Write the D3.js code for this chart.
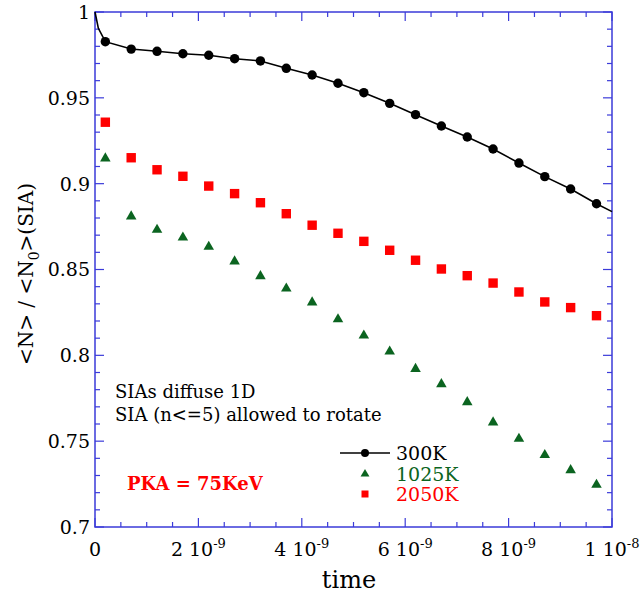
<!DOCTYPE html>
<html><head><meta charset="utf-8">
<script src="https://cdn.jsdelivr.net/npm/d3@7"></script>
<style>body{margin:0;background:#fff}svg{display:block}</style>
</head><body>
<script>
// ---- data ----
const times = [0.2e-9,0.7e-9,1.2e-9,1.7e-9,2.2e-9,2.7e-9,3.2e-9,3.7e-9,4.2e-9,4.7e-9,5.2e-9,5.7e-9,6.2e-9,6.7e-9,7.2e-9,7.7e-9,8.2e-9,8.7e-9,9.2e-9,9.7e-9];
const k300  = [0.9827,0.9784,0.9771,0.9757,0.9748,0.9728,0.9715,0.9672,0.9633,0.9585,0.9530,0.9468,0.9402,0.9336,0.9272,0.9202,0.9120,0.9041,0.8969,0.8883];
const k1025 = [0.9150,0.8812,0.8734,0.8689,0.8635,0.8550,0.8464,0.8392,0.8311,0.8213,0.8118,0.8025,0.7924,0.7835,0.7730,0.7612,0.7517,0.7422,0.7334,0.7249];
const k2050 = [0.9358,0.9151,0.9081,0.9043,0.8986,0.8942,0.8889,0.8825,0.8758,0.8711,0.8664,0.8612,0.8554,0.8503,0.8464,0.8421,0.8369,0.8311,0.8278,0.8231];
// 300K continuous line: start, early kink, then through markers, end at 1e-8
const lineStartT = [0, 0.065e-9], lineStartV = [1.0, 0.9905];
const lineEndT = [1e-8], lineEndV = [0.8837];
const xTickVals = [0,2e-9,4e-9,6e-9,8e-9,1e-8];
const xTickMant = ["0","2","4","6","8","1"];
const xTickExp  = ["","-9","-9","-9","-9","-8"];
const yTickVals = [0.7,0.75,0.8,0.85,0.9,0.95,1];
const yTickLabels = ["0.7","0.75","0.8","0.85","0.9","0.95","1"];
const seriesNames = ["300K","1025K","2050K"];

// ---- layout ----
const W=641,H=598;
const m={l:95,t:12,r:612,b:527};
const axisColor="#3b3bd9", green="#0b6420", red="#ff0000";
const font="DejaVu Serif";

const svg=d3.select("body").append("svg").attr("width",W).attr("height",H);
const x=d3.scaleLinear().domain([0,1e-8]).range([m.l,m.r]);
const y=d3.scaleLinear().domain([0.7,1]).range([m.b,m.t]);

// frame
svg.append("rect").attr("x",m.l).attr("y",m.t).attr("width",m.r-m.l).attr("height",m.b-m.t)
  .attr("fill","none").attr("stroke",axisColor).attr("stroke-width",1.5);

// ticks (inward, all four sides)
const xMinor=d3.range(0,20.5).map(i=>i*0.5e-9);
const yMinor=d3.range(0,30.5).map(i=>0.7+i*0.01);
const tg=svg.append("g").attr("stroke",axisColor).attr("stroke-width",1.2);
xMinor.forEach((v,i)=>{
  const L=(i%4===0)?9:5, px=x(v);
  tg.append("line").attr("x1",px).attr("x2",px).attr("y1",m.b).attr("y2",m.b-L);
  tg.append("line").attr("x1",px).attr("x2",px).attr("y1",m.t).attr("y2",m.t+L);
});
yMinor.forEach((v,i)=>{
  const L=(i%5===0)?9:5, py=y(v);
  tg.append("line").attr("x1",m.l).attr("x2",m.l+L).attr("y1",py).attr("y2",py);
  tg.append("line").attr("x1",m.r).attr("x2",m.r-L).attr("y1",py).attr("y2",py);
});

// tick labels
yTickVals.forEach((v,i)=>{
  svg.append("text").attr("x",90).attr("y",y(v)).attr("dy","0.36em")
    .attr("text-anchor","end").attr("font-family",font).attr("font-size",19)
    .attr("fill","#000").text(yTickLabels[i]);
});
xTickVals.forEach((v,i)=>{
  const t=svg.append("text").attr("x",x(v)).attr("y",556)
    .attr("text-anchor","middle").attr("font-family",font).attr("font-size",19).attr("fill","#000");
  if(xTickExp[i]===""){ t.text(xTickMant[i]); }
  else{
    t.append("tspan").text(xTickMant[i]+" 10");
    t.append("tspan").attr("font-size",13).attr("dy",-8).text(xTickExp[i]);
  }
});

// axis titles
svg.append("text").attr("x",349).attr("y",588).attr("text-anchor","middle")
  .attr("font-family",font).attr("font-size",24).attr("fill","#000").text("time");
const yl=svg.append("text").attr("transform","translate(33,274) rotate(-90)")
  .attr("text-anchor","middle").attr("font-family",font).attr("font-size",20).attr("fill","#000");
yl.append("tspan").text("<N> / <N");
yl.append("tspan").attr("font-size",14).attr("dy",6).text("0");
yl.append("tspan").attr("dy",-6).text(">(SIA)");

// 300K line
const lineData=[...lineStartT.map((t,i)=>[t,lineStartV[i]]), ...times.map((t,i)=>[t,k300[i]]), ...lineEndT.map((t,i)=>[t,lineEndV[i]])];
svg.append("path").datum(lineData)
  .attr("d",d3.line().x(d=>x(d[0])).y(d=>y(d[1])))
  .attr("fill","none").attr("stroke","#000").attr("stroke-width",1.6);

// markers
svg.append("g").selectAll("circle").data(times.map((t,i)=>[t,k300[i]])).join("circle")
  .attr("cx",d=>x(d[0])).attr("cy",d=>y(d[1])).attr("r",4.7).attr("fill","#000");
const tri=d3.symbol().type(d3.symbolTriangle).size(48);
svg.append("g").selectAll("path").data(times.map((t,i)=>[t,k1025[i]])).join("path")
  .attr("transform",d=>`translate(${x(d[0])},${y(d[1])+0.5})`).attr("d",tri).attr("fill",green);
svg.append("g").selectAll("rect").data(times.map((t,i)=>[t,k2050[i]])).join("rect")
  .attr("x",d=>x(d[0])-4.7).attr("y",d=>y(d[1])-4.7).attr("width",9.4).attr("height",9.4).attr("fill",red);

// annotations
svg.append("text").attr("x",115).attr("y",398).attr("font-family",font).attr("font-size",18).attr("fill","#000").text("SIAs diffuse 1D");
svg.append("text").attr("x",115).attr("y",421).attr("font-family",font).attr("font-size",18).attr("fill","#000").text("SIA (n<=5) allowed to rotate");
svg.append("text").attr("x",127).attr("y",490).attr("font-family",font).attr("font-size",18).attr("font-weight","bold").attr("fill",red).text("PKA = 75KeV");

// legend
const lg=svg.append("g");
const ly=[453,474,494];
lg.append("line").attr("x1",340).attr("x2",390).attr("y1",ly[0]).attr("y2",ly[0]).attr("stroke","#000").attr("stroke-width",1.6);
lg.append("circle").attr("cx",365).attr("cy",ly[0]).attr("r",4).attr("fill","#000");
lg.append("path").attr("transform",`translate(365,${ly[1]})`).attr("d",d3.symbol().type(d3.symbolTriangle).size(34)).attr("fill",green);
lg.append("rect").attr("x",361.5).attr("y",ly[2]-3.5).attr("width",7).attr("height",7).attr("fill",red);
const lc=["#000",green,red];
seriesNames.forEach((n,i)=>{
  lg.append("text").attr("x",396).attr("y",ly[i]).attr("dy","0.36em").attr("font-family",font)
    .attr("font-size",19).attr("fill",lc[i]).text(n);
});
</script>
</body></html>
